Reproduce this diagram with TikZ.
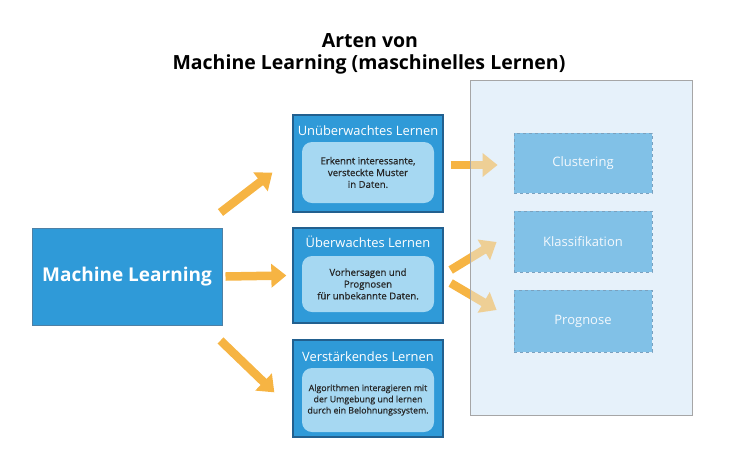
\documentclass[tikz,border=0pt]{standalone}
\usepackage{fontspec}
\setmainfont{Open Sans}
\newfontfamily\medfont[FakeBold=0.6]{Open Sans}
\usetikzlibrary{arrows.meta,calc,positioning}
\definecolor{mlblue}{HTML}{2F9AD8}
\definecolor{mlborder}{HTML}{22608F}
\definecolor{innerblue}{HTML}{A6D8F2}
\definecolor{arrorange}{HTML}{F6B443}
\definecolor{panelblue}{HTML}{E6F1FA}
\definecolor{textgray}{HTML}{262626}
\tikzset{
  typebox/.style={draw=mlborder, line width=1.3pt, fill=mlblue, minimum width=150, inner sep=0},
  boxtitle/.style={text=white, font=\fontsize{12.9}{14}\selectfont},
  innerbox/.style={fill=innerblue, rounded corners=10, minimum width=132, inner sep=0, align=center,
    text=textgray, font=\medfont\fontsize{9.6}{11.8}\selectfont},
  resultbox/.style={draw=mlborder, dashed, line width=0.8pt, fill=mlblue, minimum width=138, inner sep=0,
    text=white, font=\fontsize{13}{15}\selectfont},
  bigarrow/.style={draw=arrorange, line width=8.5pt, -{Triangle[length=15pt, width=23pt]}}
}
\begin{document}
\begin{tikzpicture}[x=1pt, y=-1pt]
  \useasboundingbox (0,0) rectangle (741,459);
  \node[font=\fontsize{19.5}{22}\selectfont\bfseries] (title1) at (370,41) {Arten von};
  \node[font=\fontsize{19.5}{22}\selectfont\bfseries] (title2) at (369,64) {Machine Learning (maschinelles Lernen)};

  % Machine Learning
  \node[typebox, draw=mlborder!80, line width=1pt, minimum width=190, minimum height=97,
    text=white, font=\fontsize{19}{22}\selectfont\bfseries] (ml) at (127,276.5) {Machine Learning};

  % die drei Arten
  \node[typebox, minimum height=97] (unsup) at (368,163.5) {};
  \node[boxtitle] (unsupT) at ($(unsup.north)+(0,16)$) {Unüberwachtes Lernen};
  \node[innerbox, minimum height=61] (unsupI) at (368,172.5) {Erkennt interessante,\\versteckte Muster\\in Daten.};

  \node[typebox, minimum height=95] (sup) at (368,275.5) {};
  \node[boxtitle] (supT) at ($(sup.north)+(0,14)$) {Überwachtes Lernen};
  \node[innerbox, minimum height=56] (supI) at (368,284) {Vorhersagen und\\Prognosen\\für unbekannte Daten.};

  \node[typebox, minimum height=97] (reinf) at (368,388.5) {};
  \node[boxtitle] (reinfT) at ($(reinf.north)+(0,17)$) {Verstärkendes Lernen};
  \node[innerbox, minimum height=64, font=\medfont\fontsize{8.8}{11.2}\selectfont] (reinfI) at (368,400)
    {Algorithmen interagieren mit\\der Umgebung und lernen\\durch ein Belohnungssystem.};

  \coordinate (a1s) at ($(ml.north east)+(-2,-15)$);
  \coordinate (a1e) at ($(unsup.south west)+(-20,-40)$);
  \coordinate (a3s) at ($(ml.south east)+(-2,15)$);
  \coordinate (a3e) at ($(reinf.north west)+(-18,53)$);
  \draw[bigarrow] (a1s) -- (a1e);
  \draw[bigarrow] (ml.east) ++(3,0) coordinate (a2s) -- ($(sup.west)+(-6,0)$);
  \draw[bigarrow] (a3s) -- (a3e);

  % rechte Seite
  \fill[panelblue] (470,80) rectangle (692,415);
  \node[resultbox, minimum height=60] (clust) at (583,163) {Clustering};
  \node[resultbox, minimum height=61] (klass) at (583,241.5) {Klassifikation};
  \node[resultbox, minimum height=62] (progn) at (583,321) {Prognose};
  \draw[bigarrow] ($(unsup.east)+(7,1.5)$) -- ($(clust.west)+(-16,2)$);
  \draw[bigarrow] ($(sup.east)+(7,-5.5)$) -- ($(klass.west)+(-17,0.5)$);
  \draw[bigarrow] ($(sup.east)+(7,7.5)$) -- ($(progn.west)+(-17,-11)$);
  \fill[panelblue, fill opacity=0.45] (470,80) rectangle (692,415);
  \draw[gray!70, line width=0.8pt] (470,80) rectangle (692,415);
\end{tikzpicture}
\end{document}
